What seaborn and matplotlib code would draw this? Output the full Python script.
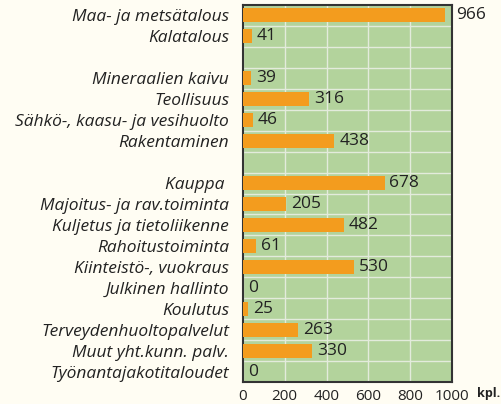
import numpy as np
import pandas as pd
import seaborn as sns
import matplotlib
import matplotlib.pyplot as plt

matplotlib.use('Agg')

# data; '' and ' ' are the empty spacer rows
order = ['Maa- ja metsätalous', 'Kalatalous', '',
         'Mineraalien kaivu', 'Teollisuus', 'Sähkö-, kaasu- ja vesihuolto', 'Rakentaminen', ' ',
         'Kauppa ', 'Majoitus- ja rav.toiminta', 'Kuljetus ja tietoliikenne', 'Rahoitustoiminta',
         'Kiinteistö-, vuokraus', 'Julkinen hallinto', 'Koulutus', 'Terveydenhuoltopalvelut',
         'Muut yht.kunn. palv.', 'Työnantajakotitaloudet']
categories = [c for c in order if c.strip()]
values = [966, 41, 39, 316, 46, 438, 678, 205, 482, 61, 530, 0, 25, 263, 330, 0]

df = pd.DataFrame({'ala': categories, 'kpl': values})

sns.set_style('white')
plt.rcParams['font.family'] = ['Open Sans', 'DejaVu Sans']

fig = plt.figure(figsize=(5.02, 4.04), dpi=100, facecolor='#fffdf3')
ax = fig.add_axes([0.484, 0.054, 0.416, 0.934])
ax.set_facecolor('#b3d39c')

sns.barplot(data=df, x='kpl', y='ala', order=order, color='#f39c1e',
            saturation=1, width=0.68, linewidth=0, edgecolor='none', ax=ax, zorder=3)

ax.set_xlim(0, 1000)
ax.set_ylim(len(order) - 0.5, -0.5)
ax.set_xticks(np.arange(0, 1001, 200))
ax.set_yticks(np.arange(len(order) - 1) + 0.5, minor=True)
ax.grid(True, axis='x', which='major', color='#e3ebdc', lw=1, zorder=1)
ax.grid(True, axis='y', which='minor', color='#e3ebdc', lw=1, zorder=1)
ax.grid(False, axis='y', which='major')
ax.tick_params(axis='y', which='both', length=0, labelsize=12.5, pad=10)
ax.tick_params(axis='x', length=5, width=1, color='#333333', labelsize=11,
               labelcolor='#222222', direction='out', pad=0)
for lab in ax.get_yticklabels():
    lab.set_fontstyle('italic')
    lab.set_color('#222222')
ax.set_xlabel('')
ax.set_ylabel('')
for s in ax.spines.values():
    s.set_color('#333333')
    s.set_linewidth(1.5)

for cat, v in zip(categories, values):
    # labels that would hit the right frame are pushed past it
    off = 8.5 if v > 950 else 3.5
    ax.annotate(str(v), (v, order.index(cat)), xytext=(off, 0), textcoords='offset points',
                va='center', ha='left', fontsize=12.5, color='#222222',
                zorder=4, annotation_clip=False)

fig.text(0.95, 0.026, 'kpl.', fontsize=9, fontweight='bold', color='#222222',
         ha='left', va='center')

plt.savefig('out.png', dpi=100, facecolor=fig.get_facecolor())
plt.close()
